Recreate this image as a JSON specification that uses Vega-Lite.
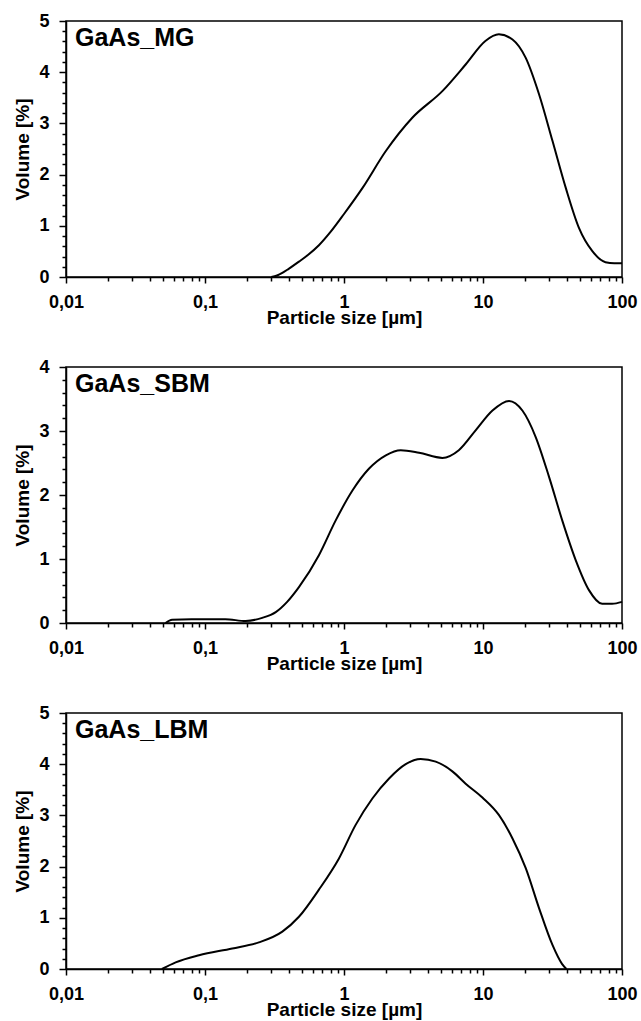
{
  "$schema": "https://vega.github.io/schema/vega-lite/v6.json",
  "padding": {"left": 13, "top": 11, "right": 0, "bottom": 0},
  "background": "white",
  "spacing": 29,
  "datasets": {
    "mg": [
      {"size": 0.30, "volume": 0}, {"size": 0.33, "volume": 0.03}, {"size": 0.36, "volume": 0.08},
      {"size": 0.40, "volume": 0.16}, {"size": 0.474, "volume": 0.3}, {"size": 0.55, "volume": 0.43},
      {"size": 0.66, "volume": 0.62}, {"size": 0.8, "volume": 0.88},
      {"size": 1.0, "volume": 1.23}, {"size": 1.36, "volume": 1.74}, {"size": 2.0, "volume": 2.46},
      {"size": 3.1, "volume": 3.11}, {"size": 5.1, "volume": 3.63}, {"size": 7.5, "volume": 4.15},
      {"size": 10.4, "volume": 4.61}, {"size": 13.0, "volume": 4.74}, {"size": 16.3, "volume": 4.64},
      {"size": 20.3, "volume": 4.28}, {"size": 25.3, "volume": 3.57}, {"size": 31.6, "volume": 2.66},
      {"size": 39.4, "volume": 1.74}, {"size": 49, "volume": 0.96}, {"size": 61, "volume": 0.51},
      {"size": 76, "volume": 0.29}, {"size": 88, "volume": 0.27}, {"size": 100, "volume": 0.27}
    ],
    "sbm": [
      {"size": 0.052, "volume": 0}, {"size": 0.058, "volume": 0.05}, {"size": 0.08, "volume": 0.06},
      {"size": 0.14, "volume": 0.06}, {"size": 0.196, "volume": 0.03}, {"size": 0.258, "volume": 0.08},
      {"size": 0.323, "volume": 0.17}, {"size": 0.39, "volume": 0.33}, {"size": 0.474, "volume": 0.56},
      {"size": 0.66, "volume": 1.06}, {"size": 0.87, "volume": 1.6}, {"size": 1.15, "volume": 2.07},
      {"size": 1.51, "volume": 2.41}, {"size": 2.0, "volume": 2.62}, {"size": 2.56, "volume": 2.7},
      {"size": 3.47, "volume": 2.66}, {"size": 5.1, "volume": 2.58}, {"size": 6.7, "volume": 2.7},
      {"size": 8.85, "volume": 3.01}, {"size": 11.7, "volume": 3.32}, {"size": 15.4, "volume": 3.47},
      {"size": 19.2, "volume": 3.32}, {"size": 23.9, "volume": 2.91}, {"size": 29.9, "volume": 2.28},
      {"size": 37.2, "volume": 1.6}, {"size": 46.5, "volume": 0.98}, {"size": 58, "volume": 0.51},
      {"size": 72, "volume": 0.3}, {"size": 85, "volume": 0.3}, {"size": 100, "volume": 0.33}
    ],
    "lbm": [
      {"size": 0.049, "volume": 0}, {"size": 0.0615, "volume": 0.13}, {"size": 0.0906, "volume": 0.27},
      {"size": 0.157, "volume": 0.4}, {"size": 0.244, "volume": 0.52}, {"size": 0.36, "volume": 0.73},
      {"size": 0.474, "volume": 1.02}, {"size": 0.66, "volume": 1.55}, {"size": 0.92, "volume": 2.16},
      {"size": 1.21, "volume": 2.81}, {"size": 1.6, "volume": 3.33}, {"size": 2.11, "volume": 3.72},
      {"size": 2.78, "volume": 4.0}, {"size": 3.56, "volume": 4.1}, {"size": 4.57, "volume": 4.05},
      {"size": 6.02, "volume": 3.86}, {"size": 7.5, "volume": 3.62}, {"size": 9.9, "volume": 3.35},
      {"size": 13.0, "volume": 3.01}, {"size": 16.3, "volume": 2.55}, {"size": 20.3, "volume": 1.97},
      {"size": 25.3, "volume": 1.19}, {"size": 31.6, "volume": 0.47}, {"size": 37, "volume": 0.1},
      {"size": 39.8, "volume": 0}
    ]
  },
  "vconcat": [
    {
      "title": {"text": "GaAs_MG"},
      "width": 556, "height": 256,
      "data": {"name": "mg"},
      "mark": {"type": "line", "interpolate": "monotone", "color": "black", "strokeWidth": 2},
      "encoding": {
        "x": {"field": "size", "type": "quantitative", "scale": {"type": "log", "domain": [0.01, 100]},
          "axis": {"title": "Particle size [µm]",
            "values": [0.01,0.02,0.03,0.04,0.05,0.06,0.07,0.08,0.09,0.1,0.2,0.3,0.4,0.5,0.6,0.7,0.8,0.9,1,2,3,4,5,6,7,8,9,10,20,30,40,50,60,70,80,90,100],
            "labelExpr": "abs(log(datum.value)/LN10 - round(log(datum.value)/LN10)) < 1e-6 ? replace(format(datum.value, '~g'), '.', ',') : ''",
            "tickSize": {"condition": {"test": "abs(log(datum.value)/LN10 - round(log(datum.value)/LN10)) < 1e-6", "value": 6}, "value": 4}}},
        "y": {"field": "volume", "type": "quantitative", "scale": {"domain": [0, 5], "nice": false},
          "axis": {"title": "Volume [%]",
            "values": [0,0.2,0.4,0.6,0.8,1,1.2,1.4,1.6,1.8,2,2.2,2.4,2.6,2.8,3,3.2,3.4,3.6,3.8,4,4.2,4.4,4.6,4.8,5],
            "labelExpr": "datum.value % 1 === 0 ? format(datum.value, 'd') : ''",
            "tickSize": {"condition": {"test": "datum.value % 1 === 0", "value": 7}, "value": 4}}}
      }
    },
    {
      "title": {"text": "GaAs_SBM"},
      "width": 556, "height": 256,
      "data": {"name": "sbm"},
      "mark": {"type": "line", "interpolate": "monotone", "color": "black", "strokeWidth": 2},
      "encoding": {
        "x": {"field": "size", "type": "quantitative", "scale": {"type": "log", "domain": [0.01, 100]},
          "axis": {"title": "Particle size [µm]",
            "values": [0.01,0.02,0.03,0.04,0.05,0.06,0.07,0.08,0.09,0.1,0.2,0.3,0.4,0.5,0.6,0.7,0.8,0.9,1,2,3,4,5,6,7,8,9,10,20,30,40,50,60,70,80,90,100],
            "labelExpr": "abs(log(datum.value)/LN10 - round(log(datum.value)/LN10)) < 1e-6 ? replace(format(datum.value, '~g'), '.', ',') : ''",
            "tickSize": {"condition": {"test": "abs(log(datum.value)/LN10 - round(log(datum.value)/LN10)) < 1e-6", "value": 6}, "value": 4}}},
        "y": {"field": "volume", "type": "quantitative", "scale": {"domain": [0, 4], "nice": false},
          "axis": {"title": "Volume [%]",
            "values": [0,0.2,0.4,0.6,0.8,1,1.2,1.4,1.6,1.8,2,2.2,2.4,2.6,2.8,3,3.2,3.4,3.6,3.8,4],
            "labelExpr": "datum.value % 1 === 0 ? format(datum.value, 'd') : ''",
            "tickSize": {"condition": {"test": "datum.value % 1 === 0", "value": 7}, "value": 4}}}
      }
    },
    {
      "title": {"text": "GaAs_LBM"},
      "width": 556, "height": 256,
      "data": {"name": "lbm"},
      "mark": {"type": "line", "interpolate": "monotone", "color": "black", "strokeWidth": 2},
      "encoding": {
        "x": {"field": "size", "type": "quantitative", "scale": {"type": "log", "domain": [0.01, 100]},
          "axis": {"title": "Particle size [µm]",
            "values": [0.01,0.02,0.03,0.04,0.05,0.06,0.07,0.08,0.09,0.1,0.2,0.3,0.4,0.5,0.6,0.7,0.8,0.9,1,2,3,4,5,6,7,8,9,10,20,30,40,50,60,70,80,90,100],
            "labelExpr": "abs(log(datum.value)/LN10 - round(log(datum.value)/LN10)) < 1e-6 ? replace(format(datum.value, '~g'), '.', ',') : ''",
            "tickSize": {"condition": {"test": "abs(log(datum.value)/LN10 - round(log(datum.value)/LN10)) < 1e-6", "value": 6}, "value": 4}}},
        "y": {"field": "volume", "type": "quantitative", "scale": {"domain": [0, 5], "nice": false},
          "axis": {"title": "Volume [%]",
            "values": [0,0.2,0.4,0.6,0.8,1,1.2,1.4,1.6,1.8,2,2.2,2.4,2.6,2.8,3,3.2,3.4,3.6,3.8,4,4.2,4.4,4.6,4.8,5],
            "labelExpr": "datum.value % 1 === 0 ? format(datum.value, 'd') : ''",
            "tickSize": {"condition": {"test": "datum.value % 1 === 0", "value": 7}, "value": 4}}}
      }
    }
  ],
  "config": {
    "font": "Liberation Sans",
    "view": {"stroke": "black", "strokeWidth": 1.5},
    "axis": {
      "grid": false,
      "domainColor": "black", "domainWidth": 1.5,
      "tickColor": "black", "tickWidth": 1.5,
      "labelColor": "black", "labelFont": "Liberation Sans", "labelFontSize": 18, "labelFontWeight": "bold",
      "titleColor": "black", "titleFont": "Liberation Sans", "titleFontSize": 19, "titleFontWeight": "bold",
      "labelOverlap": false, "labelFlush": false
    },
    "axisX": {"labelPadding": 10, "titlePadding": -3},
    "axisY": {"labelPadding": 10, "titlePadding": 6},
    "title": {"fontSize": 25, "fontWeight": "bold", "font": "Liberation Sans", "color": "black",
      "anchor": "start", "frame": "group", "offset": 0, "baseline": "alphabetic", "dx": 9, "dy": 43}
  }
}
